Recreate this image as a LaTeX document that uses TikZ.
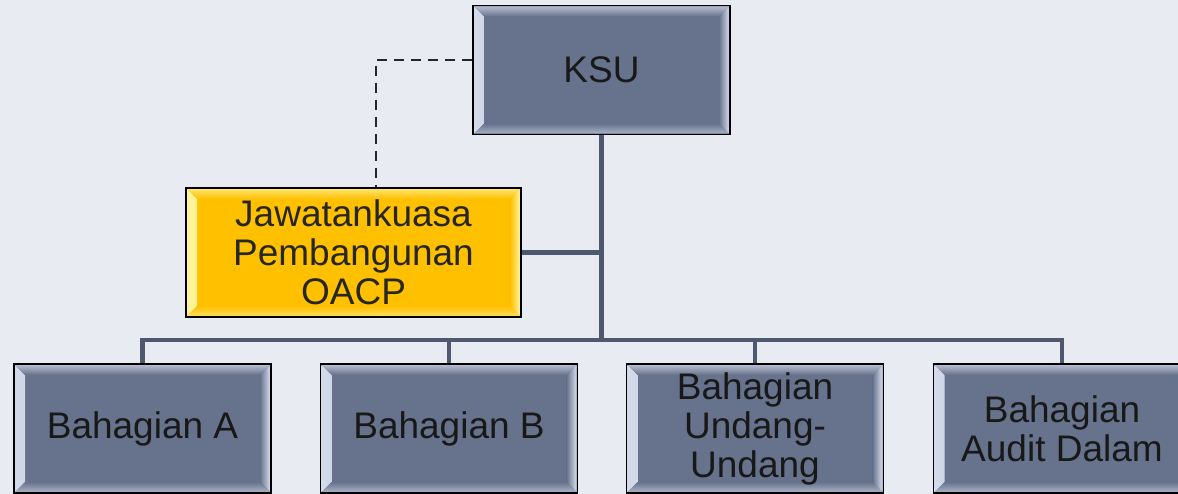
\documentclass[tikz,border=0pt]{standalone}
\usepackage{fontspec}
\setmainfont{Liberation Sans}
\usetikzlibrary{calc}
\definecolor{bgc}{HTML}{E8EBF2}
\definecolor{boxblue}{HTML}{67728C}
\definecolor{boxhi}{HTML}{D4DBEA}
\definecolor{yel}{HTML}{FFC000}
\definecolor{yelhi}{HTML}{FFF39A}
\definecolor{linec}{HTML}{4E586E}
\definecolor{txt}{HTML}{181818}
\tikzset{
  bev/.style 2 args={path picture={
    \shade[left color=#1, right color=#2]
      ($(path picture bounding box.north west)+(1pt,-1pt)$) --
      ($(path picture bounding box.south west)+(1pt,1pt)$) -- ++(10pt,10pt) --
      ($(path picture bounding box.north west)+(11pt,-11pt)$) -- cycle;
    \shade[left color=#2, right color=#1]
      ($(path picture bounding box.north east)+(-1pt,-1pt)$) --
      ($(path picture bounding box.south east)+(-1pt,1pt)$) -- ++(-10pt,10pt) --
      ($(path picture bounding box.north east)+(-11pt,-11pt)$) -- cycle;
    \shade[top color=#1!70!#2, bottom color=#2]
      ($(path picture bounding box.north west)+(1pt,-1pt)$) --
      ($(path picture bounding box.north east)+(-1pt,-1pt)$) -- ++(-10pt,-10pt) --
      ($(path picture bounding box.north west)+(11pt,-11pt)$) -- cycle;
    \shade[bottom color=#1!60!#2, top color=#2]
      ($(path picture bounding box.south west)+(1pt,1pt)$) --
      ($(path picture bounding box.south east)+(-1pt,1pt)$) -- ++(-10pt,10pt) --
      ($(path picture bounding box.south west)+(11pt,11pt)$) -- cycle;
  }},
  orgbox/.style={draw=black, line width=1.3pt, fill=boxblue, bev={boxhi}{boxblue},
    text=txt, font=\fontsize{37}{39}\selectfont, align=center,
    minimum width=257pt, minimum height=129pt, inner sep=0pt},
  yelbox/.style={orgbox, fill=yel, bev={yelhi}{yel}, text=black!85,
    minimum width=335pt, minimum height=129pt},
  conn/.style={draw=linec, line width=4.5pt},
  dashline/.style={draw=black!85, line width=2.6pt, dash pattern=on 10pt off 7pt}
}
\begin{document}
\begin{tikzpicture}[x=1pt, y=-1pt]
\useasboundingbox (0,0) rectangle (1178,494);
\fill[bgc] (0,0) rectangle (1178,494);
\coordinate (bus) at (601.5,340);
\coordinate (dk) at (376,60);
\node[orgbox] (ksu) at (601.5,70) {KSU};
\node[yelbox] (jaw) at (353.5,252.5) {Jawatankuasa\\Pembangunan\\OACP};
\node[orgbox] (a) at (142.5,428.5) {Bahagian A};
\node[orgbox] (b) at (449,428.5) {Bahagian B};
\node[orgbox] (c) at (755,428.5) {Bahagian\\Undang-\\Undang};
\node[orgbox] (d) at (1062,428.5) {Bahagian\\Audit Dalam};
\draw[conn] (ksu.south) -- (bus);
\draw[conn] (a.north) |- (bus) -| (d.north);
\draw[conn] (b.north) -- (b.north |- bus);
\draw[conn] (c.north) -- (c.north |- bus);
\draw[conn] (jaw.east) -- (jaw.east -| bus);
\draw[dashline] (ksu.west |- dk) -| (jaw.north -| dk);
\end{tikzpicture}
\end{document}
